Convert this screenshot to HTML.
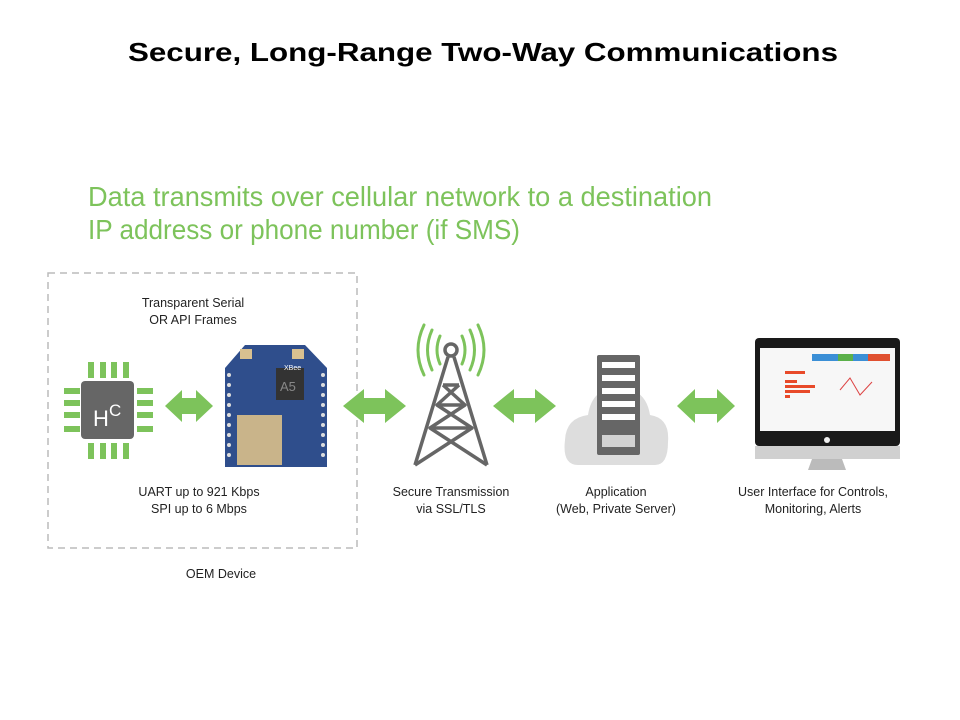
<!DOCTYPE html>
<html><head><meta charset="utf-8"><style>
html,body{margin:0;padding:0;background:#fff;}
svg{display:block;font-family:"Liberation Sans",sans-serif;}
</style></head><body>
<svg width="960" height="720" viewBox="0 0 960 720" xmlns="http://www.w3.org/2000/svg">
<rect width="960" height="720" fill="#fff"/>
<text x="128" y="61" font-size="26" font-weight="bold" textLength="710" lengthAdjust="spacingAndGlyphs">Secure, Long-Range Two-Way Communications</text>
<g fill="#7dc35b" font-size="28">
<text x="88" y="206" textLength="624" lengthAdjust="spacingAndGlyphs">Data transmits over cellular network to a destination</text>
<text x="88" y="239" textLength="432" lengthAdjust="spacingAndGlyphs">IP address or phone number (if SMS)</text>
</g>
<rect x="48" y="273" width="309" height="275" fill="none" stroke="#bbb" stroke-width="1.5" stroke-dasharray="7,5"/>
<g font-size="12.5" fill="#222" text-anchor="middle">
<text x="193" y="307">Transparent Serial</text>
<text x="193" y="324">OR API Frames</text>
<text x="199" y="496">UART up to 921 Kbps</text>
<text x="199" y="513">SPI up to 6 Mbps</text>
<text x="451" y="496">Secure Transmission</text>
<text x="451" y="513">via SSL/TLS</text>
<text x="616" y="496">Application</text>
<text x="616" y="513">(Web, Private Server)</text>
<text x="813" y="496">User Interface for Controls,</text>
<text x="813" y="513">Monitoring, Alerts</text>
<text x="221" y="578">OEM Device</text>
</g>
<!-- chip -->
<g fill="#7dc35b">
<rect x="88" y="362" width="6" height="16"/><rect x="100" y="362" width="6" height="16"/><rect x="111" y="362" width="6" height="16"/><rect x="123" y="362" width="6" height="16"/>
<rect x="88" y="443" width="6" height="16"/><rect x="100" y="443" width="6" height="16"/><rect x="111" y="443" width="6" height="16"/><rect x="123" y="443" width="6" height="16"/>
<rect x="64" y="388" width="16" height="6"/><rect x="64" y="400" width="16" height="6"/><rect x="64" y="412" width="16" height="6"/><rect x="64" y="426" width="16" height="6"/>
<rect x="137" y="388" width="16" height="6"/><rect x="137" y="400" width="16" height="6"/><rect x="137" y="412" width="16" height="6"/><rect x="137" y="426" width="16" height="6"/>
</g>
<rect x="81" y="381" width="53" height="58" rx="4" fill="#666"/>
<text x="93" y="426" fill="#fff" font-size="22">H</text><text x="109" y="416" fill="#fff" font-size="17">C</text>
<!-- arrows -->
<g fill="#7dc35b">
<path d="M165,406 L182,390 L182,398 L196,398 L196,390 L213,406 L196,422 L196,414 L182,414 L182,422Z"/>
<path d="M343,406 L364,389 L364,398 L385,398 L385,389 L406,406 L385,423 L385,414 L364,414 L364,423Z"/>
<path d="M493,406 L514,389 L514,398 L535,398 L535,389 L556,406 L535,423 L535,414 L514,414 L514,423Z"/>
<path d="M677,406 L695,389 L695,398 L717,398 L717,389 L735,406 L717,423 L717,414 L695,414 L695,423Z"/>
</g>
<!-- xbee -->
<path d="M245,345 L305,345 L327,368 L327,467 L225,467 L225,368Z" fill="#2f4e8c"/>
<rect x="237" y="415" width="45" height="50" fill="#c9b48a"/>
<rect x="276" y="368" width="28" height="32" fill="#333"/>
<text x="280" y="391" fill="#888" font-size="13">A5</text>
<text x="284" y="370" fill="#fff" font-size="7">XBee</text>
<rect x="240" y="349" width="12" height="10" fill="#d8c090"/><rect x="292" y="349" width="12" height="10" fill="#d8c090"/>
<g fill="#ddd"><circle cx="229" cy="375" r="2"/><circle cx="229" cy="385" r="2"/><circle cx="229" cy="395" r="2"/><circle cx="229" cy="405" r="2"/><circle cx="229" cy="415" r="2"/><circle cx="229" cy="425" r="2"/><circle cx="229" cy="435" r="2"/><circle cx="229" cy="445" r="2"/><circle cx="229" cy="455" r="2"/>
<circle cx="323" cy="375" r="2"/><circle cx="323" cy="385" r="2"/><circle cx="323" cy="395" r="2"/><circle cx="323" cy="405" r="2"/><circle cx="323" cy="415" r="2"/><circle cx="323" cy="425" r="2"/><circle cx="323" cy="435" r="2"/><circle cx="323" cy="445" r="2"/><circle cx="323" cy="455" r="2"/></g>
<!-- tower -->
<g fill="none" stroke="#7dc35b" stroke-width="3" stroke-linecap="round">
<path d="M440,336 Q434,350 440,364"/><path d="M432,330 Q423,350 432,370"/><path d="M424,325 Q412,350 424,375"/>
<path d="M462,336 Q468,350 462,364"/><path d="M470,330 Q479,350 470,370"/><path d="M478,325 Q490,350 478,375"/>
</g>
<g fill="none" stroke="#666" stroke-width="3.5" stroke-linejoin="round">
<circle cx="451" cy="350" r="6"/>
<path d="M448,357 L415,465 M454,357 L487,465"/>
<path d="M443,385 L459,385 M437,405 L465,405 M430,428 L472,428"/>
<path d="M443,385 L465,405 L430,428 L487,465 M459,385 L437,405 L472,428 L415,465"/>
</g>
<!-- cloud + server -->
<path d="M578,465 Q562,465 565,440 Q566,418 588,415 Q592,388 618,387 Q646,388 650,415 Q670,418 668,442 Q668,465 655,465Z" fill="#ddd"/>
<rect x="597" y="355" width="43" height="100" rx="2" fill="#666"/>
<g fill="#fff"><rect x="602" y="362" width="33" height="6"/><rect x="602" y="375" width="33" height="6"/><rect x="602" y="388" width="33" height="6"/><rect x="602" y="401" width="33" height="6"/><rect x="602" y="414" width="33" height="6"/>
<rect x="602" y="435" width="33" height="12" fill="#eee" opacity="0.8"/></g>
<!-- monitor -->
<rect x="755" y="338" width="145" height="108" rx="4" fill="#1a1a1a"/>
<rect x="760" y="348" width="135" height="83" fill="#f7f7f7"/>
<rect x="812" y="354" width="78" height="7" fill="#3b8fd6"/><rect x="838" y="354" width="15" height="7" fill="#5bb04a"/><rect x="868" y="354" width="22" height="7" fill="#e05030"/>
<g fill="#e84a2a"><rect x="785" y="371" width="20" height="3"/><rect x="785" y="380" width="12" height="3"/><rect x="785" y="385" width="30" height="3"/><rect x="785" y="390" width="25" height="3"/><rect x="785" y="395" width="5" height="3"/></g>
<path d="M840,390 L850,378 L860,395 L872,382" stroke="#d44" fill="none" stroke-width="1"/>
<rect x="755" y="446" width="145" height="13" fill="#d0d0d0"/>
<circle cx="827" cy="440" r="3" fill="#eee"/>
<path d="M812,459 L842,459 L846,470 L808,470Z" fill="#bbb"/>
</svg>
</body></html>
